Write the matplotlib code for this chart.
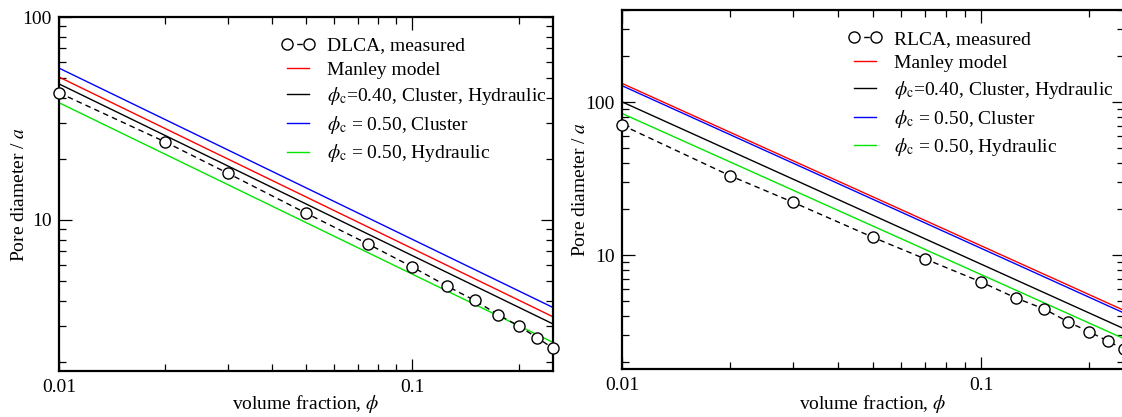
import numpy as np
import matplotlib
matplotlib.use("Agg")
import matplotlib.pyplot as plt
from matplotlib.ticker import LogLocator, NullFormatter, FixedLocator, FixedFormatter

plt.rcParams['font.family'] = ['Liberation Serif', 'DejaVu Serif']
plt.rcParams['mathtext.fontset'] = 'stix'

# ---- DLCA panel data ----
dlca_phi = [0.01, 0.02, 0.03, 0.05, 0.075, 0.1, 0.125, 0.15, 0.175, 0.2, 0.225, 0.25]
dlca_meas = [42.3, 24.2, 17.0, 10.8, 7.6, 5.86, 4.73, 4.01, 3.41, 3.0, 2.63, 2.33]
dlca_line_phi = [0.01, 0.25]
dlca_manley = [50.6, 3.33]
dlca_c040 = [46.8, 3.07]
dlca_c050_cluster = [56.0, 3.70]
dlca_c050_hydr = [37.8, 2.49]

# ---- RLCA panel data ----
rlca_phi = [0.01, 0.02, 0.03, 0.05, 0.07, 0.1, 0.125, 0.15, 0.175, 0.2, 0.225, 0.25]
rlca_meas = [70.8, 33.0, 22.1, 13.06, 9.42, 6.67, 5.24, 4.44, 3.65, 3.15, 2.75, 2.42]
rlca_line_phi = [0.01, 0.25]
rlca_manley = [132.5, 4.35]
rlca_c040 = [100.4, 3.30]
rlca_c050_cluster = [128.0, 4.18]
rlca_c050_hydr = [84.3, 2.84]

labels_common = ['Manley model',
                 r'$\phi_\mathrm{c}$=0.40, Cluster, Hydraulic',
                 r'$\phi_\mathrm{c}$ = 0.50, Cluster',
                 r'$\phi_\mathrm{c}$ = 0.50, Hydraulic']

W, H = 1122, 417
fig = plt.figure(figsize=(W / 100, H / 100), dpi=100)

def px_axes(l, r, t, b):
    return [l / W, (H - b) / H, (r - l) / W, (b - t) / H]

ax1 = fig.add_axes(px_axes(59, 553, 17, 371))
ax2 = fig.add_axes(px_axes(622, 1124, 10, 369))

def draw(ax, phi, meas, lphi, man, c40, c50c, c50h, meas_label, ylim,
         leg_anchor, ylab_x, xlab_y):
    ax.plot(phi, meas, linestyle=(0, (4, 3)), color='black', lw=1.0,
            marker='o', markersize=8, markerfacecolor='white',
            markeredgecolor='black', markeredgewidth=1.0,
            label=meas_label, zorder=5, clip_on=False)
    ax.plot(lphi, man, color='#ff0000', lw=1.0, label=labels_common[0])
    ax.plot(lphi, c40, color='black', lw=1.0, label=labels_common[1])
    ax.plot(lphi, c50c, color='#0000ff', lw=1.0, label=labels_common[2])
    ax.plot(lphi, c50h, color='#00e600', lw=1.0, label=labels_common[3])
    ax.set_xscale('log')
    ax.set_yscale('log')
    ax.set_xlim(0.01, 0.25)
    ax.set_ylim(*ylim)
    ax.xaxis.set_major_locator(FixedLocator([0.01, 0.1]))
    ax.xaxis.set_major_formatter(FixedFormatter(['0.01', '0.1']))
    ax.xaxis.set_minor_locator(LogLocator(base=10, subs=np.arange(2, 10)))
    ax.xaxis.set_minor_formatter(NullFormatter())
    ax.yaxis.set_major_locator(FixedLocator([10, 100]))
    ax.yaxis.set_major_formatter(FixedFormatter(['10', '100']))
    ax.yaxis.set_minor_locator(LogLocator(base=10, subs=np.arange(2, 10)))
    ax.yaxis.set_minor_formatter(NullFormatter())
    ax.tick_params(which='both', direction='in', top=True, right=True,
                   labelsize=14, width=0.9)
    ax.tick_params(axis='y', which='both', pad=5)
    ax.tick_params(axis='x', which='both', pad=6)
    ax.tick_params(which='major', length=9)
    ax.tick_params(which='minor', length=5)
    for s in ax.spines.values():
        s.set_linewidth(1.6)
    ax.set_xlabel(r'volume fraction, $\phi$', fontsize=14)
    ax.set_ylabel(r'Pore diameter / $a$', fontsize=14)
    ax.yaxis.set_label_coords(ylab_x, 0.5)
    ax.xaxis.set_label_coords(0.5, xlab_y)
    leg = ax.legend(loc='upper left', bbox_to_anchor=leg_anchor, frameon=False,
                    fontsize=14, numpoints=2, handlelength=1.75,
                    handletextpad=0.6, labelspacing=0.34, borderaxespad=0,
                    borderpad=0)
    return leg

draw(ax1, dlca_phi, dlca_meas, dlca_line_phi, dlca_manley, dlca_c040,
     dlca_c050_cluster, dlca_c050_hydr, 'DLCA, measured', (1.8, 100),
     (0.449, 0.944), -0.063, -0.062)
draw(ax2, rlca_phi, rlca_meas, rlca_line_phi, rlca_manley, rlca_c040,
     rlca_c050_cluster, rlca_c050_hydr, 'RLCA, measured', (1.8, 400),
     (0.450, 0.943), -0.066, -0.067)

fig.savefig('out.png', dpi=100)
